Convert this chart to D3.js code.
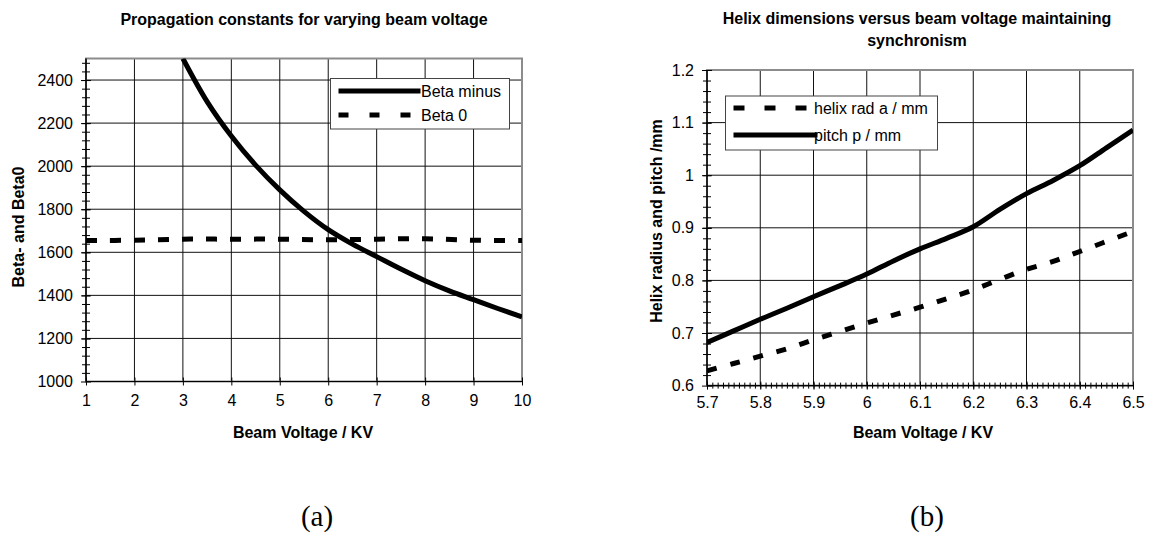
<!DOCTYPE html>
<html>
<head>
<meta charset="utf-8">
<style>
  body { margin: 0; background: #fff; }
  text { font-family: "Liberation Sans", Arial, sans-serif; fill: #000; }
  .title, .atitle { font-weight: bold; font-size: 16px; }
  .tick text { font-size: 16px; }
  .leg { font-size: 16px; }
  .cap { font-family: "Liberation Serif", "Times New Roman", serif; font-size: 29px; }
</style>
<script src="https://d3js.org/d3.v7.min.js"></script>
</head>
<body>
<script>
// panel (a): propagation constants
var voltA = [3, 3.5, 4, 4.5, 5, 5.5, 6, 6.5, 7, 7.5, 8, 8.5, 9, 9.5, 10];
var betaMinus = [2500, 2300, 2140, 2005, 1890, 1790, 1705, 1638, 1580, 1522, 1468, 1421, 1380, 1339, 1300];
var voltA0 = [1, 2, 3, 4, 5, 6, 7, 8, 9, 10];
var beta0 = [1655, 1656, 1661, 1661, 1661, 1658, 1661, 1663, 1656, 1655];
var xTicksA = [1, 2, 3, 4, 5, 6, 7, 8, 9, 10];
var yTicksA = [1000, 1200, 1400, 1600, 1800, 2000, 2200, 2400];

// panel (b): helix dimensions
var voltB = [5.7, 5.75, 5.8, 5.85, 5.9, 5.95, 6.0, 6.05, 6.1, 6.15, 6.2, 6.25, 6.3, 6.35, 6.4, 6.45, 6.5];
var helixRad = [0.628, 0.642, 0.656, 0.670, 0.687, 0.703, 0.719, 0.734, 0.749, 0.765, 0.782, 0.802, 0.821, 0.836, 0.855, 0.874, 0.893];
var pitch = [0.682, 0.704, 0.726, 0.747, 0.769, 0.790, 0.812, 0.837, 0.860, 0.880, 0.902, 0.935, 0.965, 0.990, 1.018, 1.052, 1.086];
var xTicksB = [5.7, 5.8, 5.9, 6.0, 6.1, 6.2, 6.3, 6.4, 6.5];
var yTicksB = [0.6, 0.7, 0.8, 0.9, 1.0, 1.1, 1.2];

var svg = d3.select('body').append('svg')
  .attr('width', 1152).attr('height', 535);

function panel(o) {
  var g = svg.append('g');
  var x = d3.scaleLinear().domain(o.xDom).range([o.left, o.right]);
  var y = d3.scaleLinear().domain(o.yDom).range([o.bottom, o.top]);

  g.append('clipPath').attr('id', o.id + 'clip')
    .append('rect')
    .attr('x', o.left).attr('y', o.top)
    .attr('width', o.right - o.left).attr('height', o.bottom - o.top);

  // grid
  g.selectAll('.vg').data(o.xTicks).enter().append('line')
    .attr('x1', function(d) { return x(d); }).attr('x2', function(d) { return x(d); })
    .attr('y1', o.top).attr('y2', o.bottom)
    .attr('stroke', '#111').attr('stroke-width', 1);
  g.selectAll('.hg').data(o.yTicks).enter().append('line')
    .attr('y1', function(d) { return y(d); }).attr('y2', function(d) { return y(d); })
    .attr('x1', o.left).attr('x2', o.right)
    .attr('stroke', '#111').attr('stroke-width', 1);

  // plot frame
  g.append('rect')
    .attr('x', o.left).attr('y', o.top)
    .attr('width', o.right - o.left).attr('height', o.bottom - o.top)
    .attr('fill', 'none').attr('stroke', '#8c8c8c').attr('stroke-width', 2);

  // minor ticks
  if (o.yMinor) {
    var ym = g.append('g').attr('transform', 'translate(' + o.left + ',0)')
      .call(d3.axisLeft(y).tickValues(o.yMinor).tickSize(4).tickFormat(''));
    ym.select('.domain').remove();
    ym.selectAll('line').attr('x2', -4).attr('x1', 4);
  }
  if (o.xMinor) {
    var xm = g.append('g').attr('transform', 'translate(0,' + o.bottom + ')')
      .call(d3.axisBottom(x).tickValues(o.xMinor).tickSize(3).tickFormat(''));
    xm.select('.domain').remove();
    xm.selectAll('line').attr('y1', -3).attr('y2', 3);
  }

  // major axes
  var ya = g.append('g').attr('transform', 'translate(' + o.left + ',0)')
    .call(d3.axisLeft(y).tickValues(o.yTicks).tickSize(5).tickPadding(8)
      .tickFormat(o.yFmt));
  ya.selectAll('line').attr('x1', 5);
  ya.select('.domain').attr('d', 'M0,' + o.bottom + 'V' + o.top).attr('stroke', '#000').attr('stroke-width', 1.5);
  ya.selectAll('text').attr('x', -13).attr('font-family', null).attr('font-size', null);

  var xa = g.append('g').attr('transform', 'translate(0,' + o.bottom + ')')
    .call(d3.axisBottom(x).tickValues(o.xTicks).tickSize(4).tickFormat(o.xFmt));
  xa.selectAll('line').attr('y1', -4);
  xa.select('.domain').attr('d', 'M' + o.left + ',0H' + o.right).attr('stroke', '#000').attr('stroke-width', 1.2);
  xa.selectAll('text').attr('y', o.xLabelY).attr('dy', 0).attr('font-family', null).attr('font-size', null);
  g.selectAll('.domain').attr('fill', 'none');

  // series
  var plot = g.append('g').attr('clip-path', 'url(#' + o.id + 'clip)');
  o.series.forEach(function(s) {
    var line = d3.line()
      .x(function(d, i) { return x(s.xs[i]); })
      .y(function(d) { return y(d); })
      .curve(d3.curveCatmullRom.alpha(0.5));
    plot.append('path').datum(s.ys)
      .attr('d', line)
      .attr('fill', 'none').attr('stroke', '#000')
      .attr('stroke-width', 5)
      .attr('stroke-dasharray', s.dash || null);
  });

  // legend
  var L = o.legend;
  g.append('rect').attr('x', L.x).attr('y', L.y).attr('width', L.w).attr('height', L.h)
    .attr('fill', '#fff').attr('stroke', '#444').attr('stroke-width', 1);
  L.items.forEach(function(it, i) {
    var yy = L.y + L.rows[i];
    g.append('line').attr('x1', L.x + 8).attr('x2', L.x + 8 + it.len)
      .attr('y1', yy).attr('y2', yy)
      .attr('stroke', '#000').attr('stroke-width', 5)
      .attr('stroke-dasharray', it.dash || null);
    g.append('text').attr('class', 'leg').attr('x', L.tx).attr('y', yy + 6).text(it.name);
  });

  // titles
  o.title.forEach(function(t, i) {
    g.append('text').attr('class', 'title').attr('text-anchor', 'middle')
      .attr('x', o.titleX).attr('y', o.titleY + i * 22).text(t);
  });
  g.append('text').attr('class', 'atitle').attr('text-anchor', 'middle')
    .attr('x', o.xTitleX).attr('y', 437.5).text(o.xTitle);
  g.append('text').attr('class', 'atitle').attr('text-anchor', 'middle')
    .attr('transform', 'translate(' + o.yTitleX + ',' + o.yTitleY + ') rotate(-90)')
    .text(o.yTitle);
  svg.append('text').attr('class', 'cap').attr('text-anchor', 'middle')
    .attr('x', o.capX).attr('y', 526).text(o.cap);
}

panel({
  id: 'a', left: 86, right: 522, top: 58.5, bottom: 381.5,
  xDom: [1, 10], yDom: [1000, 2500],
  xTicks: xTicksA, yTicks: yTicksA,
  yMinor: d3.range(1040, 2500, 40),
  xFmt: d3.format('d'), yFmt: d3.format('d'), xLabelY: 24,
  series: [
    { xs: voltA, ys: betaMinus },
    { xs: voltA0, ys: beta0, dash: '11,13' }
  ],
  legend: { x: 330.5, y: 78.5, w: 179, h: 50.5, rows: [12.5, 36.5], tx: 421,
    items: [{ name: 'Beta minus', len: 82 }, { name: 'Beta 0', len: 72, dash: '10,21' }] },
  title: ['Propagation constants for varying beam voltage'], titleX: 304, titleY: 25,
  xTitle: 'Beam Voltage / KV', xTitleX: 303,
  yTitle: 'Beta- and Beta0', yTitleX: 24, yTitleY: 227,
  cap: '(a)', capX: 317
});

panel({
  id: 'b', left: 707, right: 1133, top: 70, bottom: 385.6,
  xDom: [5.7, 6.5], yDom: [0.6, 1.2],
  xTicks: xTicksB, yTicks: yTicksB,
  yMinor: d3.range(0.62, 1.2, 0.02),
  xMinor: d3.range(5.71, 6.5, 0.01),
  xFmt: function(d) { return d3.format('.1f')(d).replace(/\.0$/, ''); },
  yFmt: function(d) { return d3.format('.1f')(d).replace(/\.0$/, ''); },
  xLabelY: 22,
  series: [
    { xs: voltB, ys: helixRad, dash: '10,14' },
    { xs: voltB, ys: pitch }
  ],
  legend: { x: 725.5, y: 96, w: 212, h: 54, rows: [12, 39], tx: 814,
    items: [{ name: 'helix rad a / mm', len: 74, dash: '11,20' }, { name: 'pitch p / mm', len: 84 }] },
  title: ['Helix dimensions versus beam voltage maintaining', 'synchronism'], titleX: 917, titleY: 23.5,
  xTitle: 'Beam Voltage / KV', xTitleX: 923,
  yTitle: 'Helix radius and pitch /mm', yTitleX: 661.5, yTitleY: 221,
  cap: '(b)', capX: 927
});
</script>
</body>
</html>
